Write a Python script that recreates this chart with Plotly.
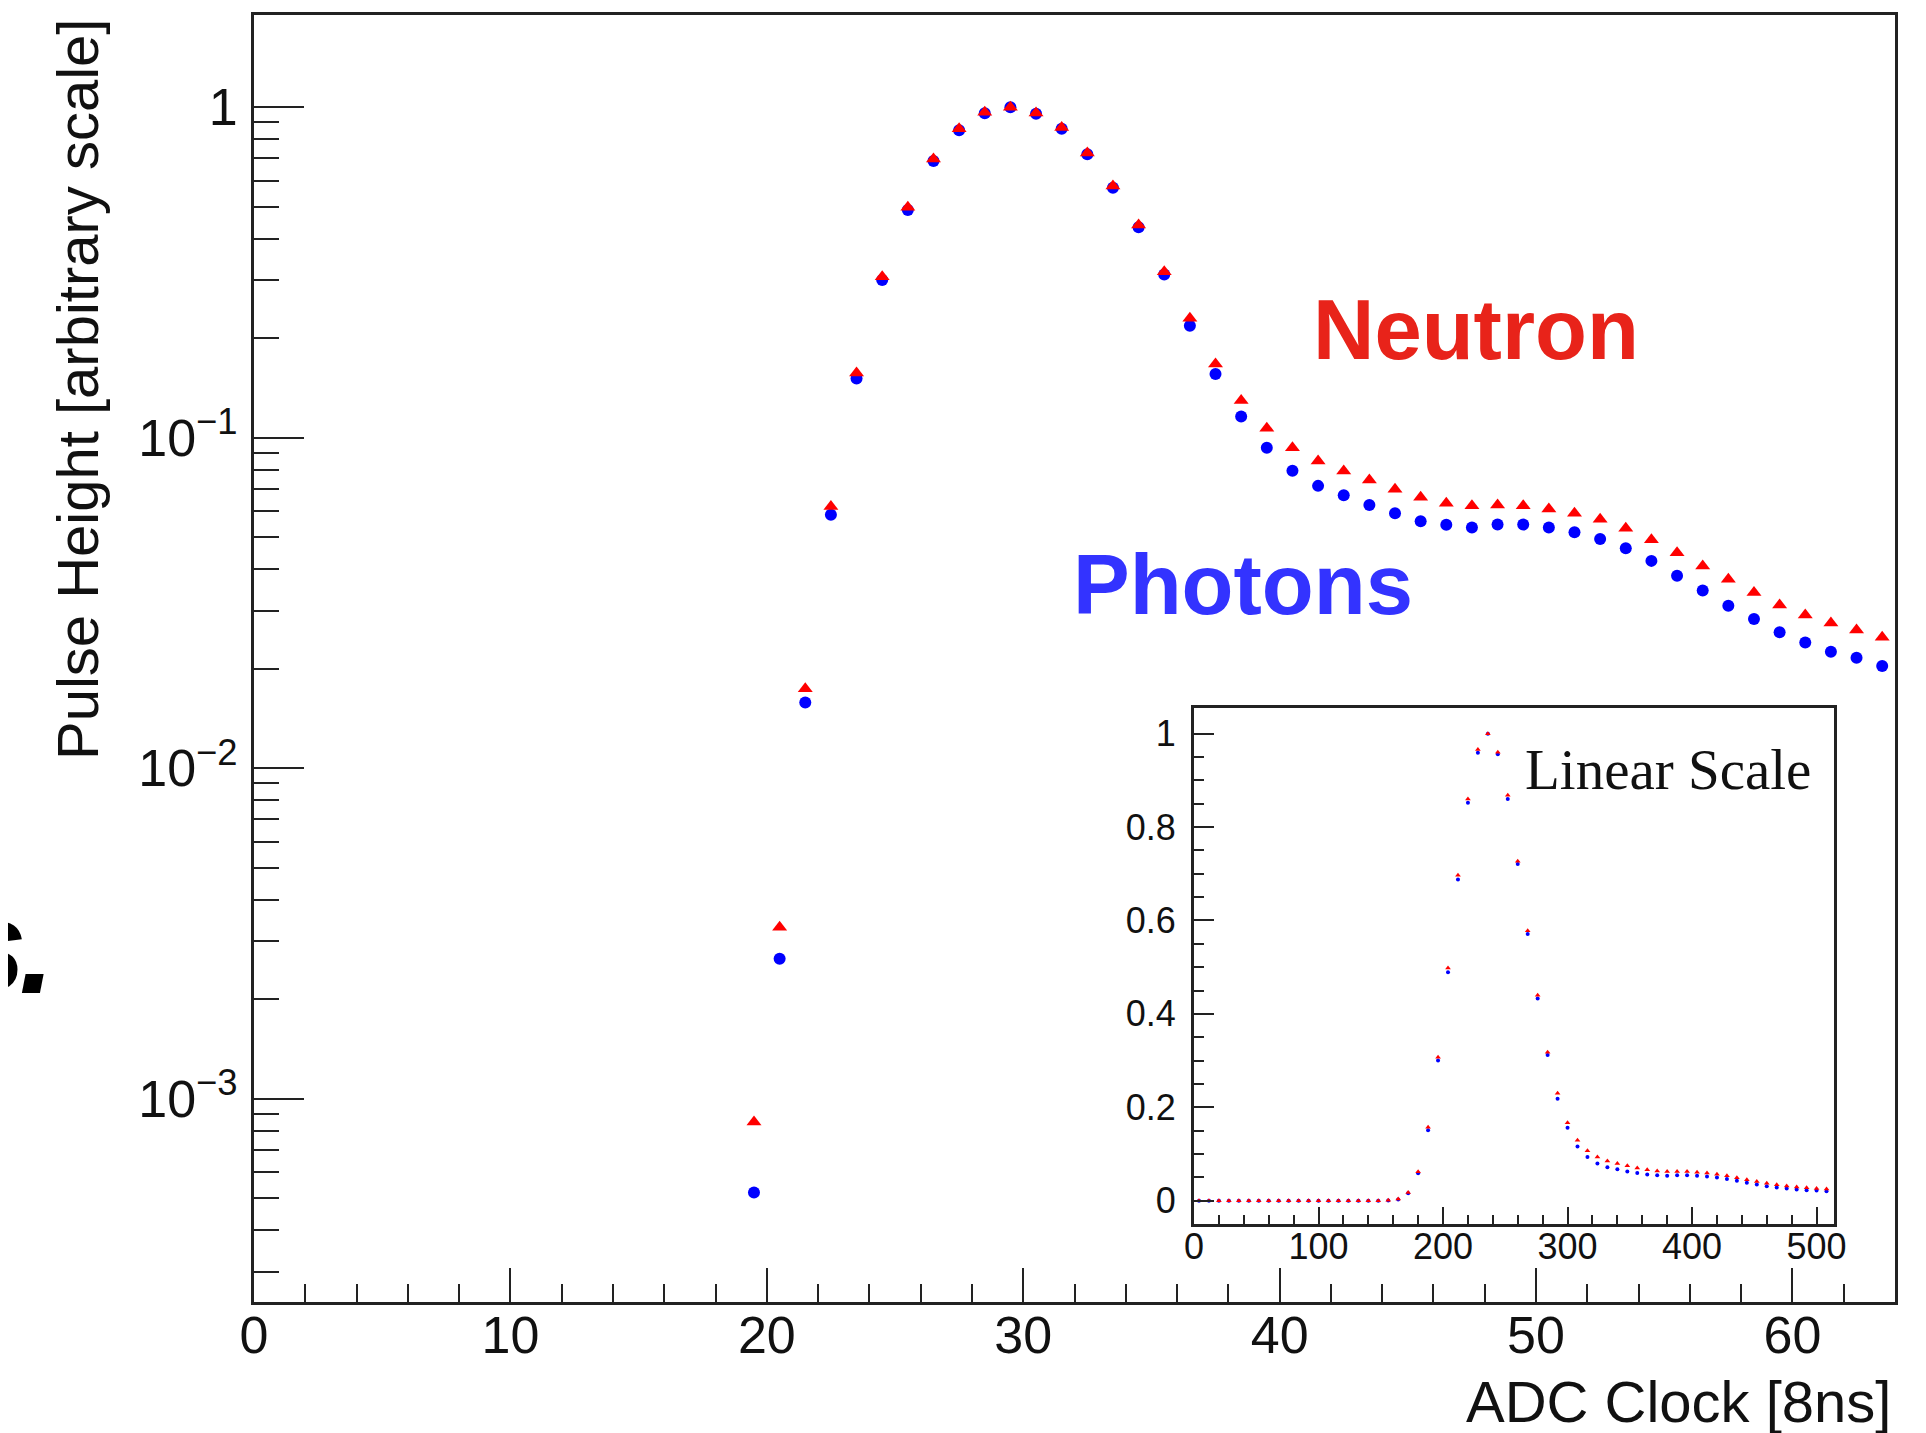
import plotly.graph_objects as go

# ---------------- data ----------------
# ADC clock bin centres (8 ns per clock) for the full 64-bin pulse
clock_bins = [i + 0.5 for i in range(64)]

# normalised pulse heights, first 19 bins are ~0 (baseline)
photon_height = [0.0] * 19 + [
    5.2e-4, 0.00265, 0.0158, 0.0585, 0.151, 0.300, 0.489, 0.688, 0.852, 0.959,
    1.0, 0.956, 0.860, 0.721, 0.571, 0.433, 0.312, 0.218, 0.156, 0.116,
    0.0933, 0.0795, 0.0715, 0.0670, 0.0626, 0.0591, 0.0559, 0.0545, 0.0535, 0.0546,
    0.0546, 0.0535, 0.0518, 0.0494, 0.0463, 0.0424, 0.0382, 0.0345, 0.0310, 0.0283,
    0.0258, 0.0240, 0.0225, 0.0216, 0.0204,
]
neutron_height = [0.0] * 19 + [
    8.5e-4, 0.0033, 0.0174, 0.0619, 0.157, 0.307, 0.498, 0.697, 0.860, 0.966,
    1.0, 0.960, 0.868, 0.727, 0.578, 0.440, 0.318, 0.230, 0.167, 0.1295,
    0.1069, 0.0933, 0.0851, 0.0793, 0.0745, 0.0698, 0.0661, 0.0633, 0.0623, 0.0626,
    0.0623, 0.0609, 0.0591, 0.0567, 0.0532, 0.0491, 0.0449, 0.0409, 0.0373, 0.0340,
    0.0312, 0.0291, 0.0275, 0.0262, 0.0249,
]
ns_per_clock = 8

main_xticks = [0, 10, 20, 30, 40, 50, 60]
main_yticks = [1e-3, 1e-2, 1e-1, 1]
main_yticktext = ["10<sup>\u22123</sup>", "10<sup>\u22122</sup>", "10<sup>\u22121</sup>", "1"]
inset_xticks = [0, 100, 200, 300, 400, 500]
inset_yticks = [0, 0.2, 0.4, 0.6, 0.8, 1.0]
inset_yticktext = ["0", "0.2", "0.4", "0.6", "0.8", "1"]

# ---------------- geometry helpers ----------------
# the page body has an 8 px margin; work in screen pixels and convert
OFF = 8
W, H = 1926 - OFF, 1433 - OFF
X0, X1 = 254 - OFF, 1895 - OFF      # plot area in page px
Y0, Y1 = 15 - OFF, 1302 - OFF
L, R, T, B = X0, W - X1, Y0, H - Y1
PW, PH = X1 - X0, Y1 - Y0


def px(xs):
    return (xs - OFF - X0) / PW


def py(ys):
    return (Y1 - (ys - OFF)) / PH


SANS = "Liberation Sans, Arial, Helvetica, sans-serif"
SERIF = "Liberation Serif, Times New Roman, serif"
AXC = "#222222"

# main (log) arrays: only positive values
m_x = [x for x, v in zip(clock_bins, photon_height) if v > 0]
m_ph = [v for v in photon_height if v > 0]
m_nx = [x for x, v in zip(clock_bins, neutron_height) if v > 0]
m_ne = [v for v in neutron_height if v > 0]

inset_x = [x * ns_per_clock for x in clock_bins]

fig = go.Figure()
fig.add_trace(go.Scatter(x=m_x, y=m_ph, mode="markers",
                         marker=dict(symbol="circle", size=12, color="#0000FF", line=dict(width=0)),
                         name="Photons"))
fig.add_trace(go.Scatter(x=m_nx, y=m_ne, mode="markers",
                         marker=dict(symbol="triangle-up", size=13, color="#FF0000", line=dict(width=0)),
                         name="Neutron"))
fig.add_trace(go.Scatter(x=inset_x, y=photon_height, mode="markers", xaxis="x2", yaxis="y2",
                         marker=dict(symbol="circle", size=4, color="#0000FF", line=dict(width=0)),
                         name="Photons (linear)"))
fig.add_trace(go.Scatter(x=inset_x, y=neutron_height, mode="markers", xaxis="x2", yaxis="y2",
                         marker=dict(symbol="triangle-up", size=5, color="#FF0000", line=dict(width=0)),
                         name="Neutron (linear)"))

minor_log = [k * 10 ** e for e in range(-4, 1) for k in range(2, 10)]

fig.update_layout(
    width=W, height=H,
    margin=dict(l=L, r=R, t=T, b=B, pad=0, autoexpand=False),
    paper_bgcolor="white", plot_bgcolor="white",
    showlegend=False,
    xaxis=dict(
        domain=[0, 1], range=[0, 64], showgrid=False, zeroline=False, automargin=False,
        showline=True, linewidth=3, linecolor=AXC, mirror=True,
        ticks="inside", tickmode="array", tickvals=main_xticks,
        ticklen=34, tickwidth=2, tickcolor=AXC,
        minor=dict(ticks="inside", tickmode="array",
                   tickvals=[v for v in range(2, 64, 2) if v % 10],
                   ticklen=18, tickwidth=2, tickcolor=AXC, showgrid=False),
        tickfont=dict(family=SANS, size=52, color="#111111"),
        ticklabelstandoff=-14,
    ),
    yaxis=dict(
        domain=[0, 1], type="log", range=[-3.615, 0.279], showgrid=False, zeroline=False,
        automargin=False,
        showline=True, linewidth=3, linecolor=AXC, mirror=True,
        ticks="inside", tickmode="array", tickvals=main_yticks, ticktext=main_yticktext,
        ticklen=50, tickwidth=2, tickcolor=AXC,
        minor=dict(ticks="inside", tickmode="array", tickvals=minor_log,
                   ticklen=25, tickwidth=2, tickcolor=AXC, showgrid=False),
        tickfont=dict(family=SANS, size=52, color="#111111"),
        ticklabelstandoff=3,
    ),
    xaxis2=dict(
        domain=[px(1194), px(1834)], anchor="y2", range=[0, 514],
        showgrid=False, zeroline=False, automargin=False,
        showline=True, linewidth=3, linecolor=AXC, mirror=True,
        ticks="inside", tickmode="array", tickvals=inset_xticks,
        ticklen=17, tickwidth=1.5, tickcolor=AXC,
        minor=dict(ticks="inside", tickmode="array",
                   tickvals=[v for v in range(20, 520, 20) if v % 100],
                   ticklen=9, tickwidth=1.5, tickcolor=AXC, showgrid=False),
        tickfont=dict(family=SANS, size=36, color="#111111"),
        ticklabelstandoff=-11,
    ),
    yaxis2=dict(
        domain=[py(1224), py(708)], anchor="x2", range=[-0.05, 1.055],
        showgrid=False, zeroline=False, automargin=False,
        showline=True, linewidth=3, linecolor=AXC, mirror=True,
        ticks="inside", tickmode="array", tickvals=inset_yticks, ticktext=inset_yticktext,
        ticklen=20, tickwidth=1.5, tickcolor=AXC,
        minor=dict(ticks="inside", tickmode="array",
                   tickvals=[round(0.05 * i, 2) for i in range(0, 21) if i % 4],
                   ticklen=10, tickwidth=1.5, tickcolor=AXC, showgrid=False),
        tickfont=dict(family=SANS, size=36, color="#111111"),
        ticklabelstandoff=8,
    ),
)

ann = [
    dict(text="Neutron", x=px(1311), y=py(329), xanchor="left", yanchor="middle",
         font=dict(family=SANS, size=85, color="#E8231A", weight="bold")),
    dict(text="Photons", x=px(1071), y=py(584), xanchor="left", yanchor="middle",
         font=dict(family=SANS, size=85, color="#3333FF", weight="bold")),
    dict(text="Linear Scale", x=px(1523), y=py(770), xanchor="left", yanchor="middle",
         font=dict(family=SERIF, size=57, color="#111111")),
    dict(text="ADC Clock [8ns]", x=px(1893), y=py(1401), xanchor="right", yanchor="middle",
         font=dict(family=SANS, size=58, color="#111111")),
    dict(text="Pulse Height [arbitrary scale]", x=px(77), y=py(390), xanchor="center",
         yanchor="middle", textangle=-90,
         font=dict(family=SANS, size=58, color="#111111")),
    dict(text="s", x=px(28), y=py(946), xanchor="right", yanchor="middle",
         font=dict(family=SANS, size=130, color="#000000", weight="bold", style="italic")),
    dict(text=".", x=px(37), y=py(948), xanchor="center", yanchor="middle",
         font=dict(family=SANS, size=128, color="#000000", weight="bold", style="italic")),
]
for a in ann:
    a.update(xref="paper", yref="paper", showarrow=False)
fig.update_layout(annotations=ann)

fig.write_html("out.html")
